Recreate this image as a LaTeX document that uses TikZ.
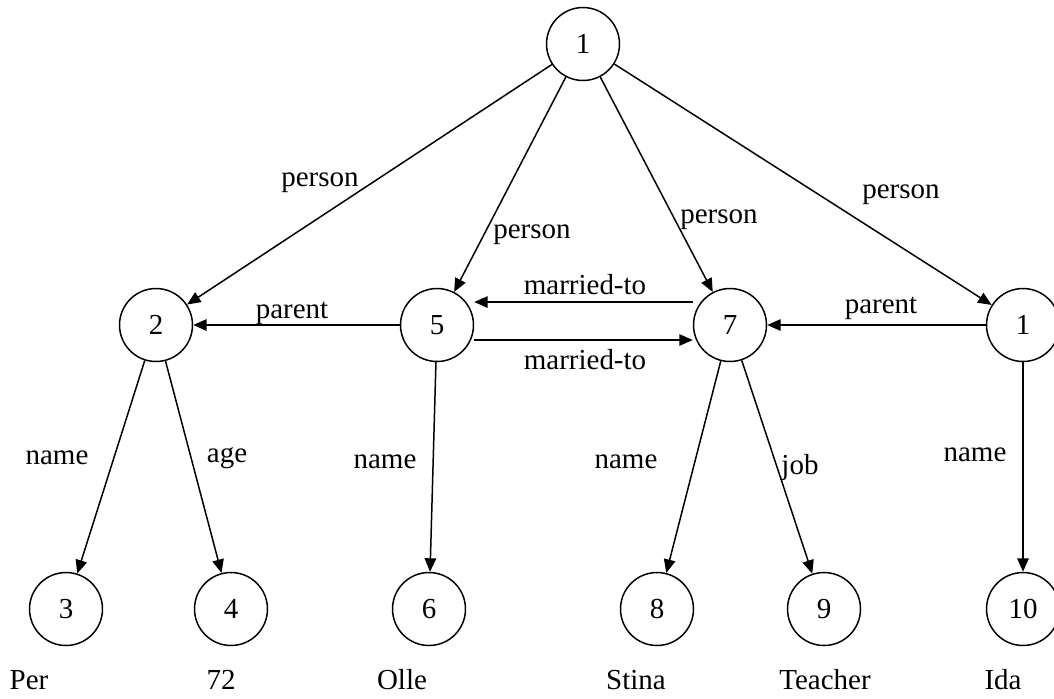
\documentclass[tikz,border=0pt]{standalone}
\usepackage{fontspec}
\setmainfont{Liberation Serif}
\usetikzlibrary{arrows.meta}

\begin{document}
\begin{tikzpicture}
        [x=0.02cm, y=-0.02cm,
         vertex/.style={circle,draw=black,line width=0.85pt,minimum size=1.46cm,inner sep=0pt},
         arc/.style={line width=0.85pt,-{Triangle[length=2.7mm,width=2.3mm]}},
         lbl/.style={inner sep=0pt},
         every node/.style={font=\fontsize{16.5}{20}\selectfont}]
        \useasboundingbox (0,0) rectangle (1054,698);
        \path node (top) at (583,44)   [vertex] {1}
              node (n2)  at (156,325)  [vertex] {2}
              node (n5)  at (437,325)  [vertex] {5}
              node (n7)  at (730,325)  [vertex] {7}
              node (n1)  at (1023,325) [vertex] {1}
              node (n3)  at (66,609)   [vertex] {3}
              node (n4)  at (231,609)  [vertex] {4}
              node (n6)  at (429,609)  [vertex] {6}
              node (n8)  at (657,609)  [vertex] {8}
              node (n9)  at (824,609)  [vertex] {9}
              node (n10) at (1023,609) [vertex] {10};
        % edges
        \draw[arc] (top) -- (n2);
        \draw[arc] (top) -- (n5);
        \draw[arc] (top) -- (n7);
        \draw[arc] (top) -- (n1);
        \draw[arc] ([yshift=0.46cm]n7.west) -- ([yshift=0.46cm]n5.east);
        \draw[arc] ([yshift=-0.3cm]n5.east) -- ([yshift=-0.3cm]n7.west);
        \draw[arc] (n5) -- (n2);
        \draw[arc] (n1) -- (n7);
        \draw[arc] (n2) -- (n3);
        \draw[arc] (n2) -- (n4);
        \draw[arc] (n5) -- (n6);
        \draw[arc] (n7) -- (n8);
        \draw[arc] (n7) -- (n9);
        \draw[arc] (n1) -- (n10);
        % labels
        \path node (lp1) at (320,183) [lbl] {person}
              node (lp2) at (532,235) [lbl] {person}
              node (lp3) at (719,220) [lbl] {person}
              node (lp4) at (901,195) [lbl] {person}
              node (lm1) at (585,285) [lbl] {married-to}
              node (lm2) at (585,360) [lbl] {married-to}
              node (lpa1) at (292,313) [lbl] {parent}
              node (lpa2) at (881,308) [lbl] {parent}
              node (ln1) at (57,458)  [lbl] {name}
              node (la)  at (227,458) [lbl] {age}
              node (ln2) at (385,462) [lbl] {name}
              node (ln3) at (626,462) [lbl] {name}
              node (lj)  at (800,468) [lbl] {job}
              node (ln4) at (975,455) [lbl] {name};
        \path node (v3)  at (29,680)   [lbl] {Per}
              node (v4)  at (221,680)  [lbl] {72}
              node (v6)  at (402,680)  [lbl] {Olle}
              node (v8)  at (636,680)  [lbl] {Stina}
              node (v9)  at (825,680)  [lbl] {Teacher}
              node (v10) at (1003,680) [lbl] {Ida};
      \end{tikzpicture}
\end{document}
